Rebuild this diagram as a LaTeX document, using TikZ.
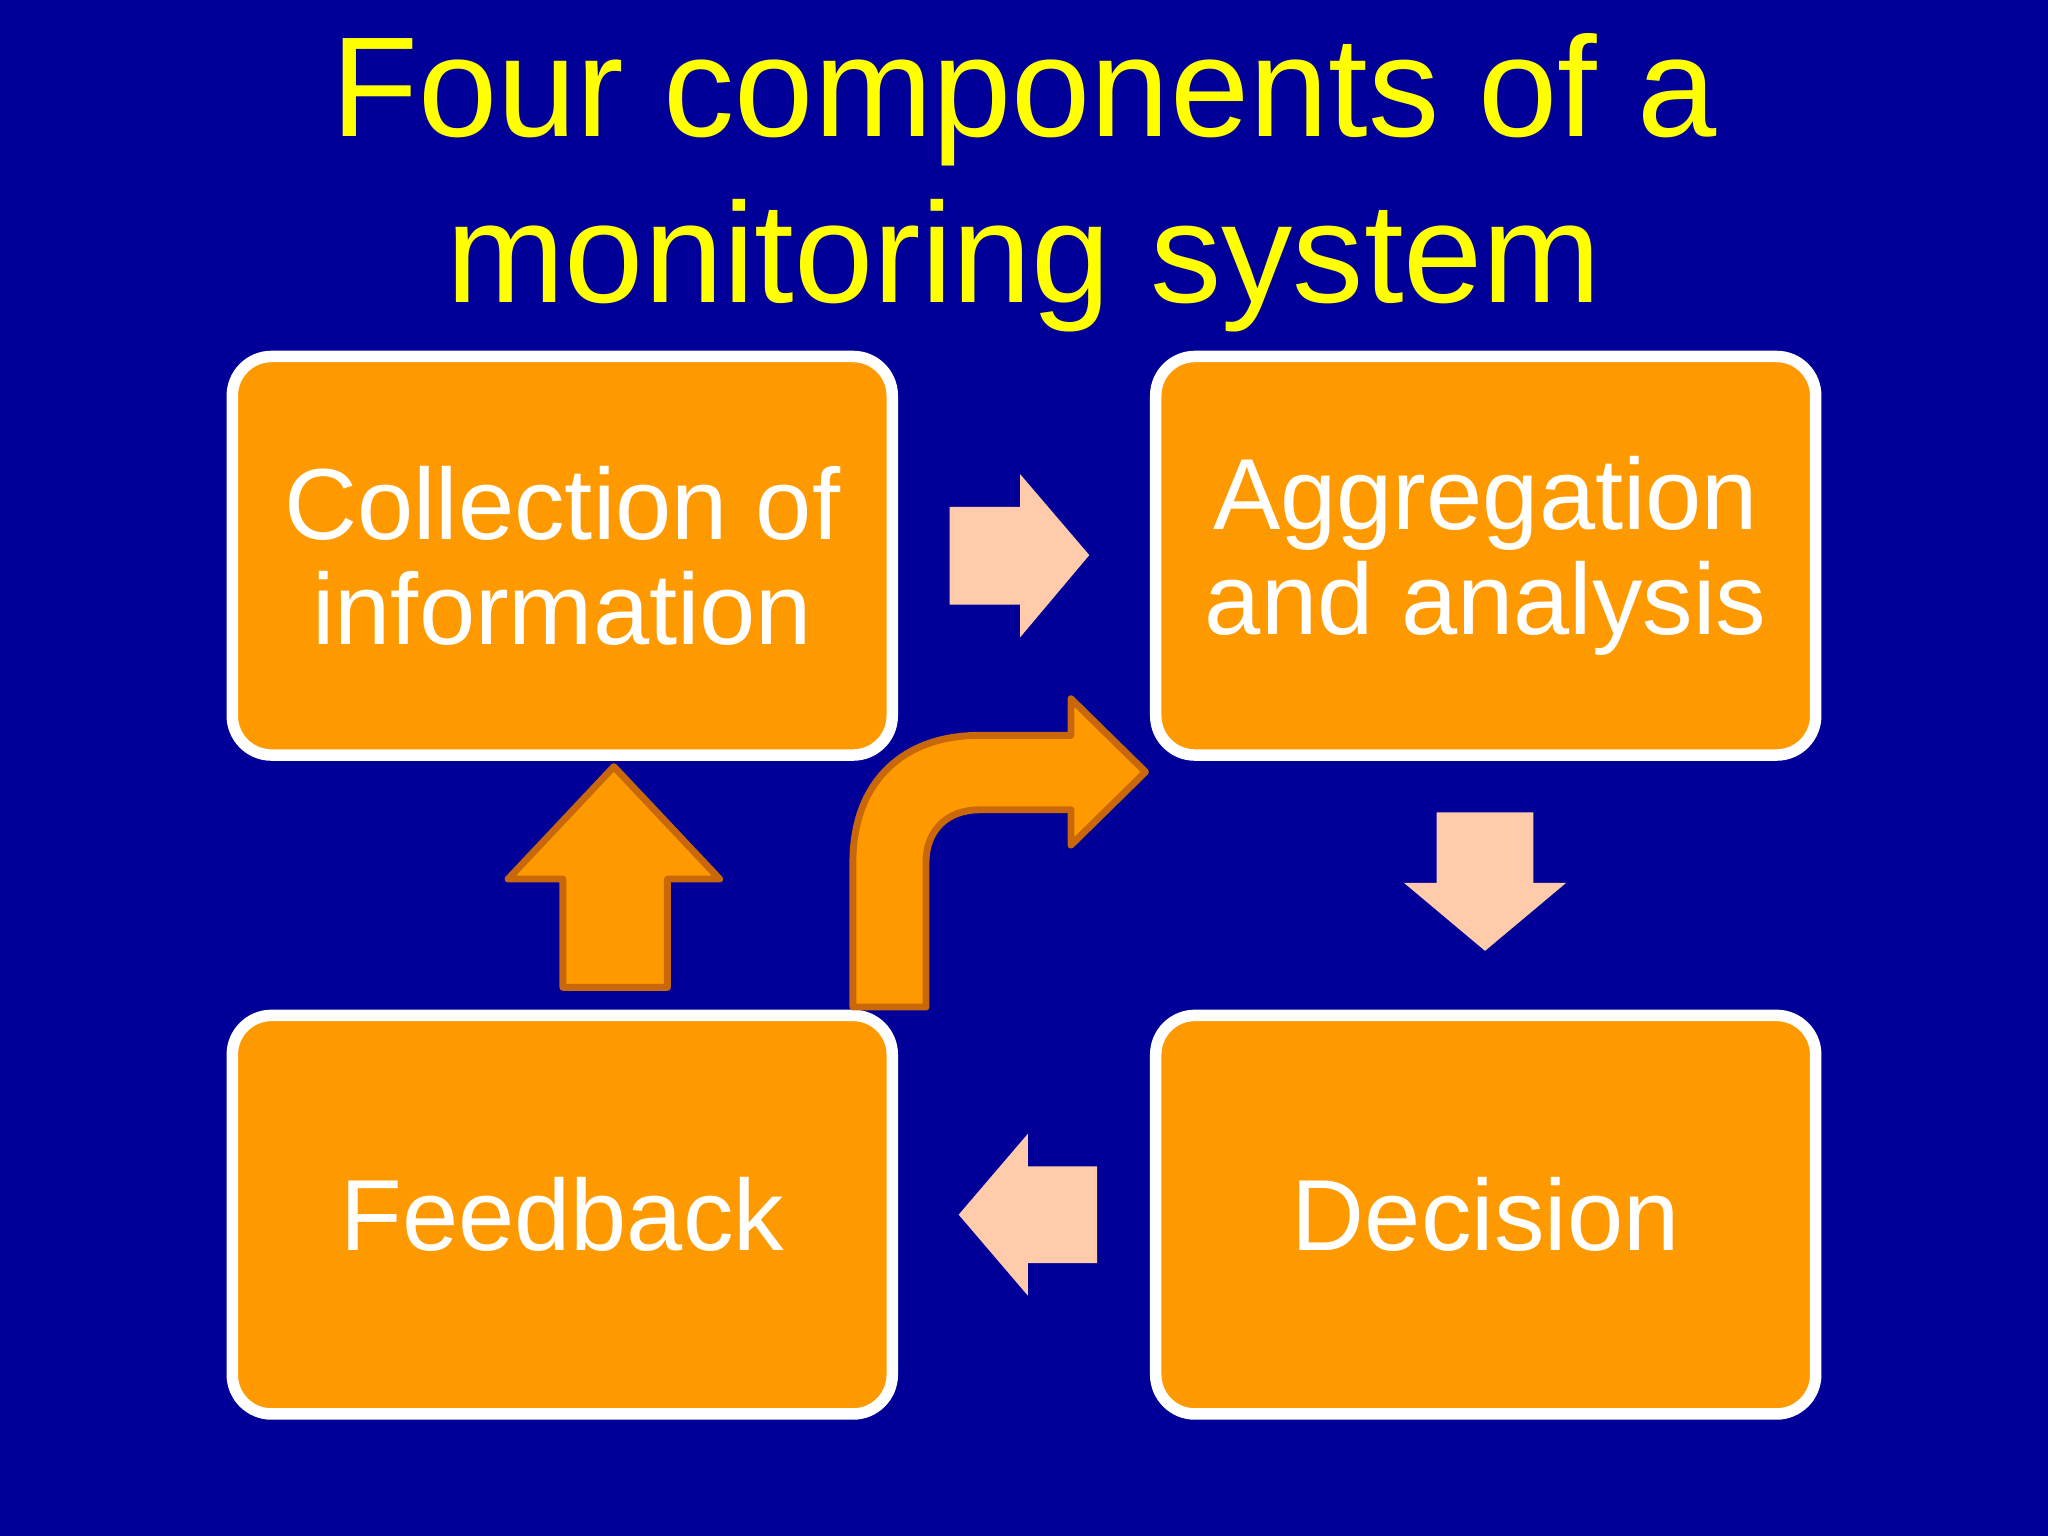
\documentclass[tikz,border=0pt]{standalone}
\usepackage{fontspec}
\setmainfont{Liberation Sans}
\definecolor{bg}{HTML}{000099}
\definecolor{org}{HTML}{FF9900}
\definecolor{pch}{HTML}{FFCBAA}
\definecolor{edg}{HTML}{C8680A}
\definecolor{ttl}{HTML}{FFFF00}
\begin{document}
\begin{tikzpicture}[x=0.01cm,y=-0.01cm,
  box/.style={draw=white,line width=2.5pt,fill=org,rounded corners=0.3cm,minimum width=5.05cm,minimum height=3.05cm,text=white,font=\fontsize{22}{23}\selectfont,align=center},
  light/.style={fill=pch},
  dark/.style={fill=org,draw=edg,line width=1.5pt,line join=round}]
\fill[bg] (0,0) rectangle (1568,1176);
\node[text=ttl,font=\fontsize{31}{36}\selectfont,align=center] (title) at (784,140) {Four components of a\\monitoring system};
\node[box] (col) at (430.5,425.5) {Collection of\\information};
\node[box] (agg) at (1137.5,425.5) {Aggregation\\and analysis};
\node[box] (fb) at (430.5,930) {Feedback};
\node[box] (dec) at (1137.5,930) {Decision};
\fill[light] (727,388) -- (781,388) -- (781,363) -- (834,425) -- (781,488) -- (781,463) -- (727,463) -- cycle;
\fill[light] (1100,622) -- (1174,622) -- (1174,676) -- (1199,676) -- (1137,728) -- (1075,676) -- (1100,676) -- cycle;
\fill[light] (840,893) -- (787,893) -- (787,868) -- (734,930) -- (787,992) -- (787,967) -- (840,967) -- cycle;
\draw[dark] (431,756) -- (511,756) -- (511,673) -- (551,673) -- (470,587) -- (389,673) -- (431,673) -- cycle;
\draw[dark] (653,771) -- (653,660) .. controls (653,600) and (690,563) .. (750,563) -- (820,563) -- (820,535) -- (877,591) -- (820,647) -- (820,620) -- (750,620) .. controls (725,620) and (709,636) .. (709,660) -- (709,771) -- cycle;
\end{tikzpicture}
\end{document}
